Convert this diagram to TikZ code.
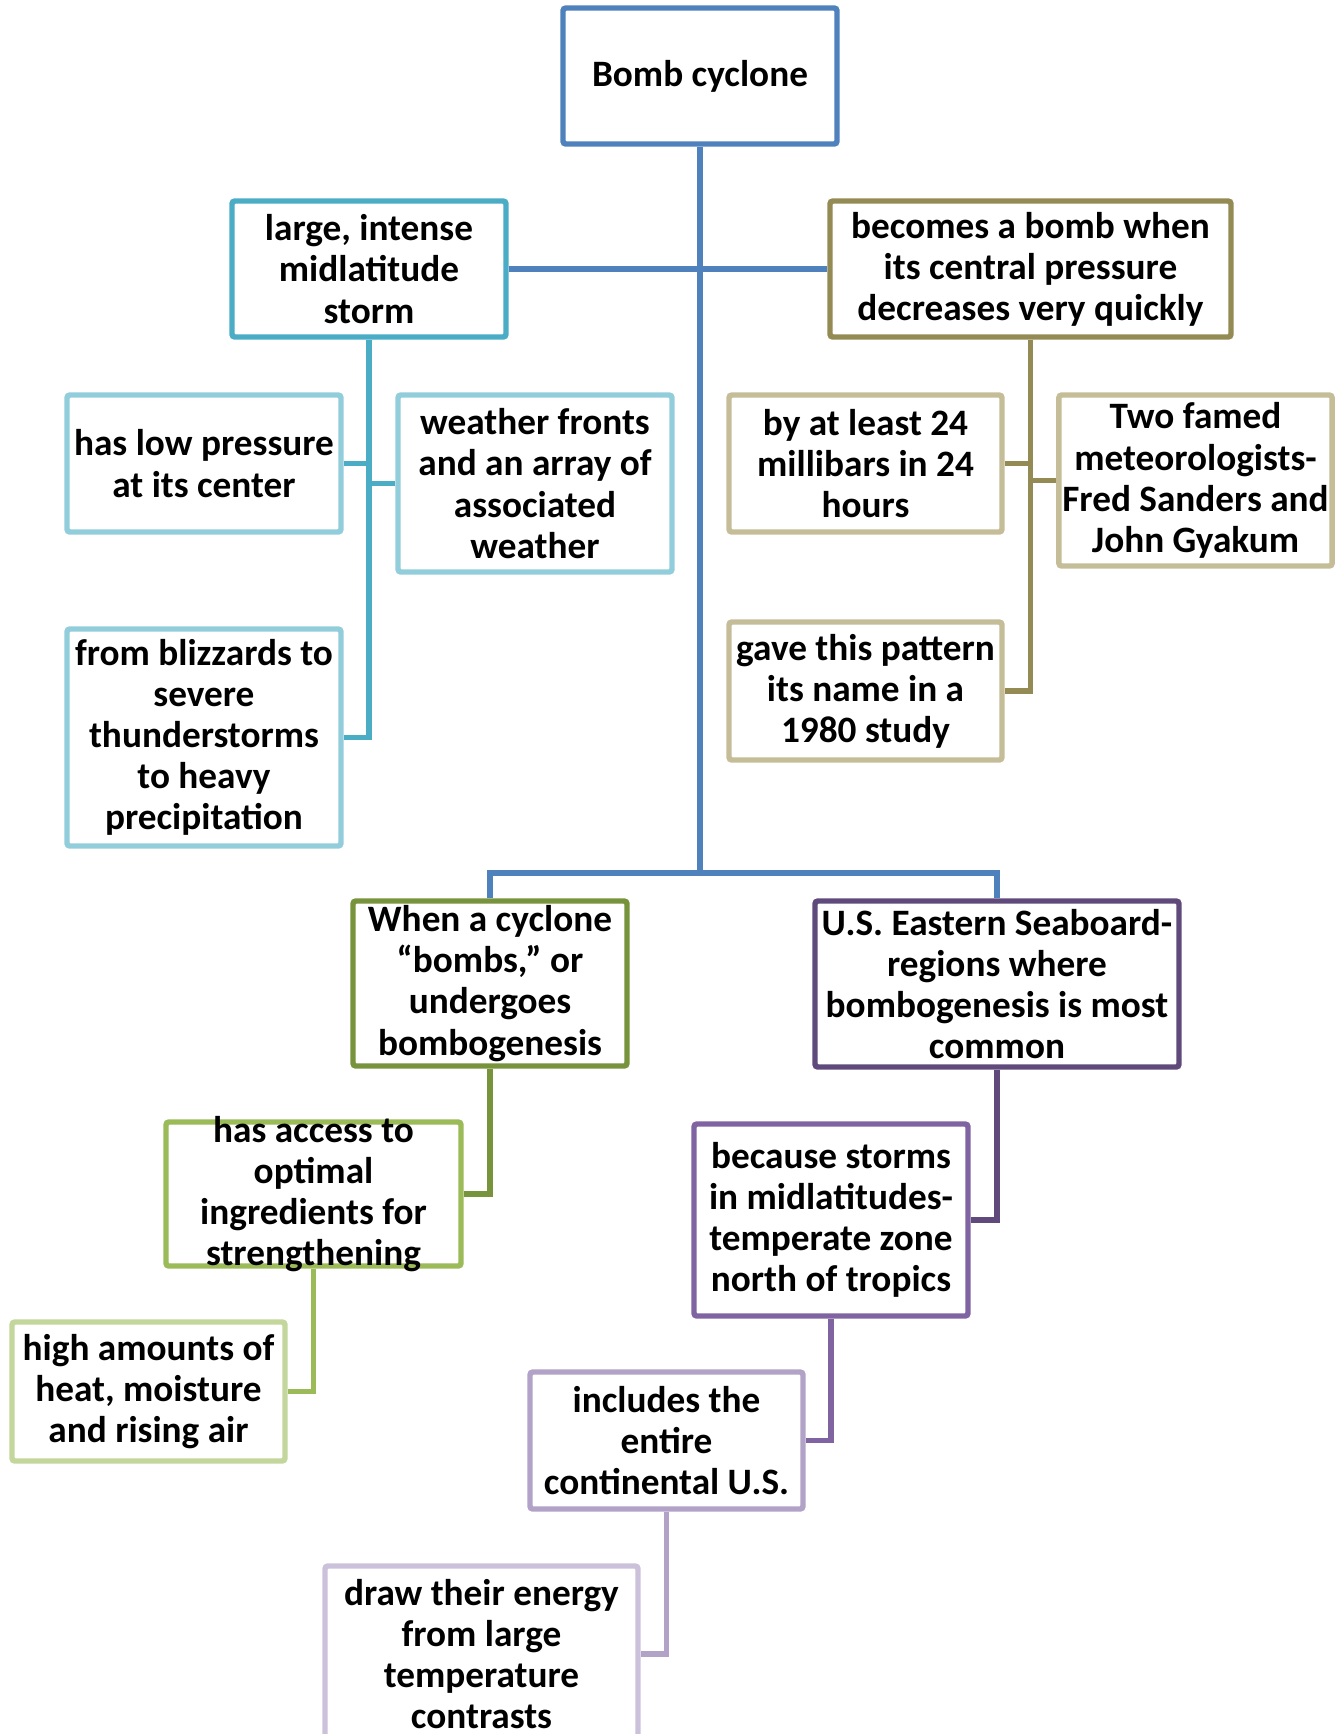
\documentclass[tikz,border=0pt]{standalone}
\usepackage{fontspec}
\setmainfont{Carlito}
\usetikzlibrary{positioning}
\definecolor{rootblue}{HTML}{4F81BD}
\definecolor{stormaqua}{HTML}{4BACC6}
\definecolor{stormlight}{HTML}{92CDDC}
\definecolor{bombtan}{HTML}{948A54}
\definecolor{bomblight}{HTML}{C4BD97}
\definecolor{genesisgreen}{HTML}{77933C}
\definecolor{genesismid}{HTML}{9BBB59}
\definecolor{genesislight}{HTML}{C3D69B}
\definecolor{coastpurple}{HTML}{604A7B}
\definecolor{coastmid}{HTML}{8064A2}
\definecolor{coastpale}{HTML}{B2A2C7}
\definecolor{coastlight}{HTML}{CCC1DA}

\begin{document}
\begin{tikzpicture}[
  txt/.style={align=center,inner sep=1pt,font=\fontsize{10.6}{11.7}\selectfont\bfseries},
  box/.style={txt,draw=#1,line width=1.55pt,fill=white,rounded corners=0.8pt},
  link/.style={draw=#1,line width=1.55pt}]
  \useasboundingbox (0,0) rectangle (13.40,-17.34);
  % top
  \node[box=rootblue,minimum width=2.74cm,minimum height=1.36cm] (root) at (7.00,-0.76) {Bomb cyclone};
  \node[box=stormaqua,minimum width=2.74cm,minimum height=1.36cm] (storm) at (3.69,-2.69) {large, intense\\midlatitude\\storm};
  \node[box=bombtan,minimum width=4.01cm,minimum height=1.36cm] (bomb) at (10.305,-2.69) {becomes a bomb when\\its central pressure\\decreases very quickly};
  % storm branch
  \node[box=stormlight,minimum width=2.74cm,minimum height=1.37cm] (lowp) at (2.04,-4.635) {has low pressure\\at its center};
  \node[box=stormlight,minimum width=2.74cm,minimum height=1.77cm] (fronts) at (5.35,-4.835) {weather fronts\\and an array of\\associated\\weather};
  \node[box=stormlight,minimum width=2.74cm,minimum height=2.17cm] (blizz) at (2.04,-7.375) {from blizzards to\\severe\\thunderstorms\\to heavy\\precipitation};
  % bomb branch
  \node[box=bomblight,minimum width=2.73cm,minimum height=1.37cm] (rate) at (8.655,-4.635) {by at least 24\\millibars in 24\\hours};
  \node[box=bomblight,minimum width=2.73cm,minimum height=1.71cm] (famed) at (11.955,-4.805) {Two famed\\meteorologists-\\Fred Sanders and\\John Gyakum};
  \node[box=bomblight,minimum width=2.73cm,minimum height=1.38cm] (study) at (8.655,-6.91) {gave this pattern\\its name in a\\1980 study};
  % lower half
  \node[box=genesisgreen,minimum width=2.74cm,minimum height=1.65cm] (genesis) at (4.90,-9.835) {When a cyclone\\“bombs,” or\\undergoes\\bombogenesis};
  \node[box=coastpurple,minimum width=3.64cm,minimum height=1.66cm] (coast) at (9.97,-9.84) {U.S. Eastern Seaboard-\\regions where\\bombogenesis is most\\common};
  \node[box=genesismid,minimum width=2.95cm,minimum height=1.44cm] (access) at (3.135,-11.94) {};
  \node[txt] (accesstext) at (access) {has access to\\optimal\\ingredients for\\strengthening};
  \node[box=genesislight,minimum width=2.73cm,minimum height=1.39cm] (heat) at (1.485,-13.915) {high amounts of\\heat, moisture\\and rising air};
  \node[box=coastmid,minimum width=2.74cm,minimum height=1.92cm] (tropics) at (8.31,-12.20) {because storms\\in midlatitudes-\\temperate zone\\north of tropics};
  \node[box=coastpale,minimum width=2.73cm,minimum height=1.37cm] (entire) at (6.665,-14.405) {includes the\\entire\\continental U.S.};
  \node[box=coastlight,minimum width=3.13cm,minimum height=1.76cm] (energy) at (4.815,-16.54) {draw their energy\\from large\\temperature\\contrasts};
  % connectors
  \coordinate (split) at (7.00,-8.73);
  \draw[link=rootblue] (root.south) -- (split);
  \draw[link=rootblue] (genesis.north) |- (split) -| (coast.north);
  \draw[link=rootblue] (storm.east) -- (bomb.west);
  \draw[link=stormaqua] (storm.south) |- (blizz.east);
  \draw[link=stormaqua] (lowp.east) -- (lowp.east -| storm.south);
  \draw[link=stormaqua] (fronts.west) -- (fronts.west -| storm.south);
  \draw[link=bombtan] (bomb.south) |- (study.east);
  \draw[link=bombtan] (rate.east) -- (rate.east -| bomb.south);
  \draw[link=bombtan] (famed.west) -- (famed.west -| bomb.south);
  \draw[link=genesisgreen] (genesis.south) |- (access.east);
  \draw[link=genesismid] (access.south) |- (heat.east);
  \draw[link=coastpurple] (coast.south) |- (tropics.east);
  \draw[link=coastmid] (tropics.south) |- (entire.east);
  \draw[link=coastpale] (entire.south) |- (energy.east);
\end{tikzpicture}
\end{document}
